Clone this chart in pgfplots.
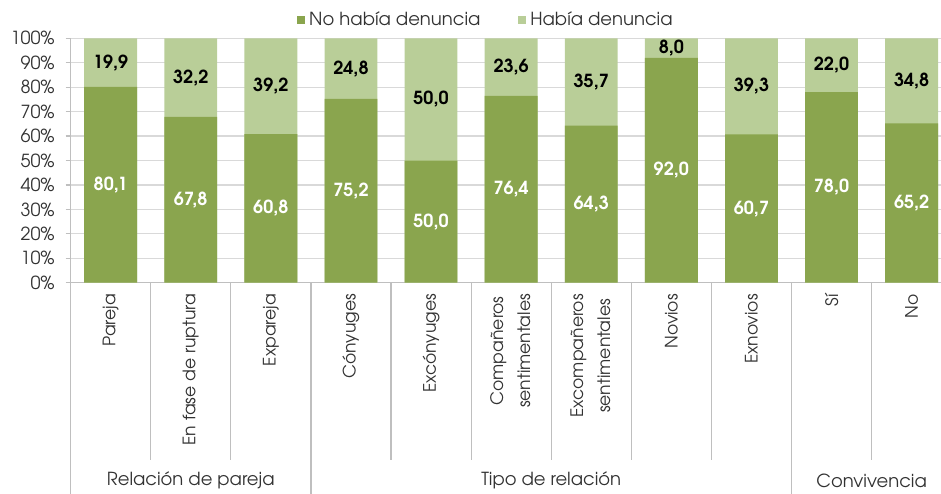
\documentclass[border=0pt]{standalone}
\usepackage{pgfplots}
\usepackage{pgfplotstable}
\pgfplotsset{compat=1.18}
\usepackage{fontspec}
\setmainfont{texgyreadventor}[Extension=.otf, UprightFont=*-regular, BoldFont=*-bold, ItalicFont=*-italic, BoldItalicFont=*-bolditalic]
\definecolor{darkg}{RGB}{138,165,78}
\definecolor{lightg}{RGB}{185,206,152}
\definecolor{gridc}{RGB}{217,217,217}
\definecolor{axc}{RGB}{191,191,191}
\definecolor{txt}{RGB}{50,50,50}

\pgfplotstableread{
x nod had
0 80.1 19.9
1 67.8 32.2
2 60.8 39.2
3 75.2 24.8
4 50.0 50.0
5 76.4 23.6
6 64.3 35.7
7 92.0 8.0
8 60.7 39.3
9 78.0 22.0
10 65.2 34.8
}\datatab

\newcommand{\two}[2]{\begin{tabular}{@{}c@{}}#1\\#2\end{tabular}}

\begin{document}
\begin{tikzpicture}
\begin{axis}[
  scale only axis, width=440.55pt, height=122.2pt,
  xmin=-0.5, xmax=10.5, ymin=0, ymax=100,
  clip=false,
  axis lines*=left,
  axis line style={draw=axc, -},
  ymajorgrids, grid style={draw=gridc, line width=0.6pt},
  ytick={0,10,...,100},
  yticklabels={0\%,10\%,20\%,30\%,40\%,50\%,60\%,70\%,80\%,90\%,100\%},
  tick align=outside,
  ytick style={draw=axc, line width=0.6pt},
  major tick length=2.5pt,
  xtick={0,...,10},
  xtick style={draw=none},
  xticklabels={Pareja, En fase de ruptura, Expareja, Cónyuges, Excónyuges, {\two{Compañeros}{sentimentales}}, {\two{Excompañeros}{sentimentales}}, Novios, Exnovios, Sí, No},
  xticklabel style={rotate=90, anchor=east, font=\fontsize{8.6}{13.5}\selectfont, text=txt, inner sep=0pt},
  xticklabel shift=3pt,
  yticklabel style={font=\fontsize{9}{11}\selectfont, text=txt, xshift=-2pt},
  /pgf/number format/.cd, use comma, fixed, fixed zerofill, precision=1, assume math mode=true,
  /pgfplots/.cd,
  legend style={at={(0.4725,1.075)}, anchor=center, draw=none, fill=none, legend columns=2,
    /tikz/every even column/.append style={column sep=17pt},
    font=\fontsize{9}{11}\selectfont, text=txt, inner sep=0pt},
  legend image code/.code={\fill[#1] (0pt,-2pt) rectangle (4pt,2pt);},
]
\addlegendimage{fill=darkg, draw=none}
\addlegendentry{No había denuncia}
\addlegendimage{fill=lightg, draw=none}
\addlegendentry{Había denuncia}

\addplot[ybar, bar width=0.66, bar shift=0pt, fill=lightg, draw=none, forget plot]
  table[x=x, y expr=\thisrow{nod}+\thisrow{had}] \datatab;
\addplot[ybar, bar width=0.66, bar shift=0pt, fill=darkg, draw=none, forget plot]
  table[x=x, y=nod] \datatab;

\addplot[draw=none, mark=none, forget plot, nodes near coords, point meta=explicit,
  every node near coord/.append style={anchor=center, font=\bfseries\fontsize{9}{11}\selectfont, text=white}]
  table[x=x, y expr=\thisrow{nod}/2, meta=nod] \datatab;
\addplot[draw=none, mark=none, forget plot, nodes near coords, point meta=explicit,
  every node near coord/.append style={anchor=center, font=\bfseries\fontsize{9}{11}\selectfont, text=black}]
  table[x=x, y expr=\thisrow{nod}+\thisrow{had}/2, meta=had] \datatab;

\pgfplotsinvokeforeach{0.5,1.5,3.5,4.5,5.5,6.5,7.5,9.5}{
  \draw[axc, line width=0.6pt] (axis cs:#1,0) -- ++(0pt,-88.5pt);
}
\pgfplotsinvokeforeach{-0.5,2.5,8.5,10.5}{
  \draw[axc, line width=0.6pt] (axis cs:#1,0) -- ++(0pt,-112pt);
}
\node[font=\fontsize{9}{11}\selectfont, text=txt] at ([yshift=-99pt]axis cs:1,0) {Relación de pareja};
\node[font=\fontsize{9}{11}\selectfont, text=txt] at ([yshift=-99pt]axis cs:5.5,0) {Tipo de relación};
\node[font=\fontsize{9}{11}\selectfont, text=txt] at ([yshift=-99pt]axis cs:9.5,0) {Convivencia};
\end{axis}
\pgfresetboundingbox
\path ([shift={(-35.3pt,-105.15pt)}]current axis.south west) rectangle ([shift={(435.2pt,141.35pt)}]current axis.south west);
\end{tikzpicture}
\end{document}
